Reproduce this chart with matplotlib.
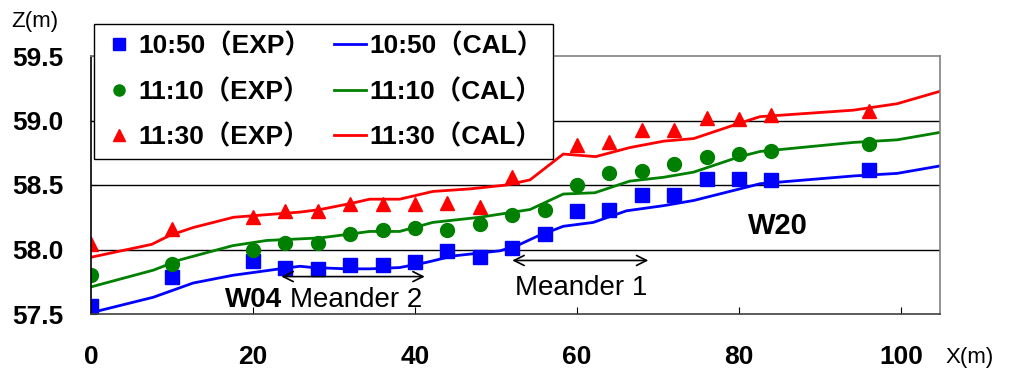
# Water surface profiles: measured (EXP) vs calculated (CAL)
import matplotlib
matplotlib.use("Agg")
import matplotlib.pyplot as plt

plt.rcParams['font.family'] = ['Liberation Sans', 'Noto Sans CJK JP', 'DejaVu Sans']

# measured points
x_exp = [0, 10, 20, 24, 28, 32, 36, 40, 44, 48, 52, 56, 60, 64, 68, 72, 76, 80, 84, 96]
z_exp_1050 = [57.56, 57.79, 57.91, 57.86, 57.85, 57.88, 57.88, 57.90, 57.99, 57.94,
              58.01, 58.12, 58.30, 58.31, 58.42, 58.42, 58.55, 58.55, 58.54, 58.62]
z_exp_1110 = [57.80, 57.89, 58.00, 58.05, 58.05, 58.12, 58.15, 58.17, 58.15, 58.20,
              58.27, 58.31, 58.50, 58.59, 58.61, 58.66, 58.72, 58.74, 58.76, 58.82]
z_exp_1130 = [58.04, 58.16, 58.25, 58.30, 58.30, 58.35, 58.35, 58.35, 58.36, 58.33,
              58.56, 58.76, 58.81, 58.83, 58.93, 58.93, 59.02, 59.01, 59.04, 59.07]

# calculated profiles
x_cal_1050 = [0, 7.7, 12.6, 17.5, 23.3, 25.8, 27.4, 31.6, 34.4, 38.1, 41.4, 44.7, 50.5,
              52.6, 55, 58.3, 62, 66.1, 70.7, 74.4, 80.1, 82.6, 94.1, 99.5, 105]
z_cal_1050 = [57.51, 57.63, 57.74, 57.80, 57.85, 57.87, 57.86, 57.85, 57.85, 57.86, 57.90,
              57.95, 57.99, 58.03, 58.10, 58.18, 58.21, 58.30, 58.34, 58.38, 58.47, 58.51,
              58.57, 58.59, 58.65]
x_cal_1110 = [0, 7.7, 11, 17.5, 21.7, 25, 28.3, 32, 34.4, 38.1, 42.2, 48, 54.2, 58.3, 62.2,
              66.5, 70.7, 74.4, 80.1, 82.6, 94.1, 99.5, 105]
z_cal_1110 = [57.71, 57.84, 57.92, 58.03, 58.07, 58.08, 58.09, 58.12, 58.14, 58.14, 58.21,
              58.25, 58.31, 58.43, 58.44, 58.53, 58.56, 58.60, 58.72, 58.76, 58.83, 58.85, 58.91]
x_cal_1130 = [0, 7.5, 9.75, 12.6, 17.6, 21.7, 25.8, 28.3, 32.3, 34.4, 38.1, 42.2, 46.8, 51.3,
              54.2, 58.3, 62.3, 66.5, 70.7, 74.4, 80.1, 82.6, 94.1, 99.5, 105]
z_cal_1130 = [57.94, 58.04, 58.11, 58.17, 58.25, 58.27, 58.29, 58.31, 58.36, 58.39, 58.39,
              58.45, 58.47, 58.50, 58.54, 58.74, 58.72, 58.79, 58.84, 58.86, 58.98, 59.03,
              59.08, 59.13, 59.23]

labels_exp = ['10:50（EXP）', '11:10（EXP）', '11:30（EXP）']
labels_cal = ['10:50（CAL）', '11:10（CAL）', '11:30（CAL）']
colors = ['#0000FF', '#008000', '#FF0000']

fig = plt.figure(figsize=(10.12, 3.72), dpi=100)
ax = fig.add_axes([91 / 1012, 1 - 314 / 372, (940 - 91) / 1012, (314 - 56) / 372])

h1, = ax.plot(x_exp, z_exp_1050, 's', color=colors[0], ms=9.5, ls='none')
h2, = ax.plot(x_exp, z_exp_1110, 'o', color=colors[1], ms=10, ls='none')
h3, = ax.plot(x_exp, z_exp_1130, '^', color=colors[2], ms=10.5, ls='none')
l1, = ax.plot(x_cal_1050, z_cal_1050, '-', color=colors[0], lw=2)
l2, = ax.plot(x_cal_1110, z_cal_1110, '-', color=colors[1], lw=2)
l3, = ax.plot(x_cal_1130, z_cal_1130, '-', color=colors[2], lw=2)

ax.set_xlim(0, 104.8)
ax.set_ylim(57.5, 59.5)
ax.set_xticks([0, 20, 40, 60, 80, 100])
ax.set_yticks([57.5, 58.0, 58.5, 59.0, 59.5])
ax.set_yticklabels(['57.5', '58.0', '58.5', '59.0', '59.5'])
ax.tick_params(axis='x', direction='in', length=5, pad=22, labelsize=19)
ax.tick_params(axis='y', direction='in', length=4, pad=20, labelsize=19)
for lab in ax.get_xticklabels() + ax.get_yticklabels():
    lab.set_fontweight('bold')

# horizontal grid lines
for yy in [58.0, 58.5, 59.0]:
    ax.axhline(yy, color='black', lw=1, zorder=0)
ax.spines['top'].set_color('#808080')
ax.spines['right'].set_color('#808080')
ax.spines['left'].set_color('black')
ax.spines['bottom'].set_color('#404040')
for s in ax.spines.values():
    s.set_linewidth(1.2)

# annotations
ax.annotate('', xy=(23.5, 57.79), xytext=(41.2, 57.79),
            arrowprops=dict(arrowstyle='<->', lw=1.2, color='black', mutation_scale=18,
                            shrinkA=0, shrinkB=0))
ax.annotate('', xy=(52.0, 57.915), xytext=(68.8, 57.915),
            arrowprops=dict(arrowstyle='<->', lw=1.2, color='black', mutation_scale=18,
                            shrinkA=0, shrinkB=0))
ax.text(20.1, 57.61, 'W04', fontsize=20, fontweight='bold', ha='center', va='center')
ax.text(24.6, 57.61, 'Meander 2', fontsize=20, ha='left', va='center')
ax.text(60.5, 57.70, 'Meander 1', fontsize=20, ha='center', va='center')
ax.text(84.8, 58.18, 'W20', fontsize=21, fontweight='bold', ha='center', va='center')

fig.text(35 / 1012, 1 - 22 / 372, 'Z(m)', fontsize=16, ha='center', va='center')
fig.text(970 / 1012, 1 - 357 / 372, 'X(m)', fontsize=16, ha='center', va='center')

leg = fig.legend([h1, h2, h3, l1, l2, l3], labels_exp + labels_cal, ncol=2,
                 loc='upper left', bbox_to_anchor=(94 / 1012, 1 - 24 / 372),
                 borderaxespad=0,
                 prop={'size': 19, 'weight': 'bold'}, numpoints=1,
                 handlelength=1.2, handletextpad=0.15, columnspacing=0.85,
                 labelspacing=0.76, borderpad=0.35, fancybox=False, framealpha=1)
leg.get_frame().set_edgecolor('black')
leg.get_frame().set_linewidth(1.0)
for h in leg.legend_handles[:3]:
    h.set_markersize(8)

fig.savefig('out.png', dpi=100)
